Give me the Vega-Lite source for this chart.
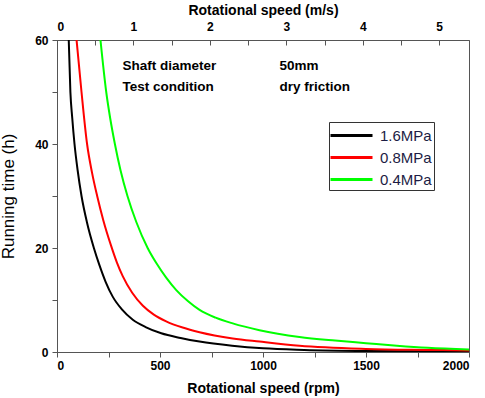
{
  "$schema": "https://vega.github.io/schema/vega-lite/v6.json",
  "width": 412,
  "height": 312,
  "autosize": {"type": "none"},
  "padding": {"left": 57, "top": 40, "right": 16, "bottom": 46},
  "background": "white",
  "config": {
    "view": {"stroke": "#555", "strokeWidth": 1},
    "font": "Liberation Sans",
    "axis": {
      "grid": false,
      "domainColor": "#555",
      "tickColor": "#555",
      "labelFont": "Liberation Sans",
      "labelFontWeight": "bold",
      "labelFontSize": 12,
      "labelColor": "#000",
      "titleFont": "Liberation Sans",
      "titleFontWeight": "bold",
      "titleFontSize": 14,
      "titleColor": "#000",
      "tickSize": 5
    }
  },
  "datasets": {
    "curves": [
      {"rpm": 57, "h": 60, "p": "1.6MPa"},
      {"rpm": 65, "h": 50, "p": "1.6MPa"},
      {"rpm": 74, "h": 45, "p": "1.6MPa"},
      {"rpm": 85, "h": 40, "p": "1.6MPa"},
      {"rpm": 100, "h": 35, "p": "1.6MPa"},
      {"rpm": 119, "h": 30, "p": "1.6MPa"},
      {"rpm": 145, "h": 25, "p": "1.6MPa"},
      {"rpm": 179, "h": 20, "p": "1.6MPa"},
      {"rpm": 206, "h": 16.7, "p": "1.6MPa"},
      {"rpm": 236, "h": 13.5, "p": "1.6MPa"},
      {"rpm": 271, "h": 10.6, "p": "1.6MPa"},
      {"rpm": 315, "h": 8.2, "p": "1.6MPa"},
      {"rpm": 368, "h": 6.2, "p": "1.6MPa"},
      {"rpm": 430, "h": 4.8, "p": "1.6MPa"},
      {"rpm": 506, "h": 3.6, "p": "1.6MPa"},
      {"rpm": 600, "h": 2.7, "p": "1.6MPa"},
      {"rpm": 692, "h": 2.0, "p": "1.6MPa"},
      {"rpm": 850, "h": 1.2, "p": "1.6MPa"},
      {"rpm": 1000, "h": 0.7, "p": "1.6MPa"},
      {"rpm": 1200, "h": 0.4, "p": "1.6MPa"},
      {"rpm": 1500, "h": 0.2, "p": "1.6MPa"},
      {"rpm": 2000, "h": 0.1, "p": "1.6MPa"},
      {"rpm": 95, "h": 60, "p": "0.8MPa"},
      {"rpm": 119, "h": 50, "p": "0.8MPa"},
      {"rpm": 146, "h": 40, "p": "0.8MPa"},
      {"rpm": 170, "h": 34.5, "p": "0.8MPa"},
      {"rpm": 195, "h": 30, "p": "0.8MPa"},
      {"rpm": 225, "h": 25.3, "p": "0.8MPa"},
      {"rpm": 262, "h": 20.5, "p": "0.8MPa"},
      {"rpm": 290, "h": 17.3, "p": "0.8MPa"},
      {"rpm": 319, "h": 14.6, "p": "0.8MPa"},
      {"rpm": 365, "h": 11.4, "p": "0.8MPa"},
      {"rpm": 417, "h": 8.9, "p": "0.8MPa"},
      {"rpm": 470, "h": 7.2, "p": "0.8MPa"},
      {"rpm": 530, "h": 5.9, "p": "0.8MPa"},
      {"rpm": 610, "h": 4.7, "p": "0.8MPa"},
      {"rpm": 692, "h": 3.8, "p": "0.8MPa"},
      {"rpm": 853, "h": 2.6, "p": "0.8MPa"},
      {"rpm": 983, "h": 2.0, "p": "0.8MPa"},
      {"rpm": 1177, "h": 1.2, "p": "0.8MPa"},
      {"rpm": 1500, "h": 0.6, "p": "0.8MPa"},
      {"rpm": 1800, "h": 0.4, "p": "0.8MPa"},
      {"rpm": 2000, "h": 0.3, "p": "0.8MPa"},
      {"rpm": 211, "h": 60, "p": "0.4MPa"},
      {"rpm": 239, "h": 50, "p": "0.4MPa"},
      {"rpm": 258, "h": 45, "p": "0.4MPa"},
      {"rpm": 281, "h": 40, "p": "0.4MPa"},
      {"rpm": 308, "h": 35, "p": "0.4MPa"},
      {"rpm": 342, "h": 30, "p": "0.4MPa"},
      {"rpm": 385, "h": 25, "p": "0.4MPa"},
      {"rpm": 440, "h": 20, "p": "0.4MPa"},
      {"rpm": 482, "h": 17.1, "p": "0.4MPa"},
      {"rpm": 530, "h": 14.3, "p": "0.4MPa"},
      {"rpm": 579, "h": 11.9, "p": "0.4MPa"},
      {"rpm": 635, "h": 9.8, "p": "0.4MPa"},
      {"rpm": 692, "h": 8.1, "p": "0.4MPa"},
      {"rpm": 770, "h": 6.6, "p": "0.4MPa"},
      {"rpm": 853, "h": 5.5, "p": "0.4MPa"},
      {"rpm": 983, "h": 4.2, "p": "0.4MPa"},
      {"rpm": 1177, "h": 2.9, "p": "0.4MPa"},
      {"rpm": 1350, "h": 2.2, "p": "0.4MPa"},
      {"rpm": 1500, "h": 1.7, "p": "0.4MPa"},
      {"rpm": 1650, "h": 1.2, "p": "0.4MPa"},
      {"rpm": 1800, "h": 0.8, "p": "0.4MPa"},
      {"rpm": 2000, "h": 0.5, "p": "0.4MPa"}
    ],
    "notes": [
      {"label": "Shaft diameter", "rpm": 318, "h": 55},
      {"label": "50mm", "rpm": 1080, "h": 55},
      {"label": "Test  condition", "rpm": 318, "h": 51},
      {"label": "dry friction", "rpm": 1080, "h": 51}
    ],
    "top": [{"ms": 0}, {"ms": 5.39}]
  },
  "layer": [
    {
      "layer": [
        {
          "data": {"name": "curves"},
          "mark": {"type": "line", "strokeWidth": 2, "clip": true, "interpolate": "monotone"},
          "encoding": {
            "x": {
              "field": "rpm", "type": "quantitative",
              "scale": {"domain": [0, 2000], "nice": false},
              "axis": {
                "orient": "bottom",
                "title": "Rotational speed (rpm)",
                "values": [0, 250, 500, 750, 1000, 1250, 1500, 1750, 2000],
                "labelExpr": "datum.value % 500 === 0 ? datum.label : ''",
                "format": "d",
                "labelPadding": 3,
                "titlePadding": 10
              }
            },
            "y": {
              "field": "h", "type": "quantitative",
              "scale": {"domain": [0, 60], "nice": false},
              "axis": {
                "title": "Running time (h)",
                "titleFontWeight": "normal",
                "titleFontSize": 17,
                "values": [0, 10, 20, 30, 40, 50, 60],
                "labelExpr": "datum.value % 20 === 0 ? datum.label : ''",
                "labelPadding": 4,
                "titlePadding": 17
              }
            },
            "color": {
              "field": "p", "type": "nominal",
              "scale": {"domain": ["1.6MPa", "0.8MPa", "0.4MPa"], "range": ["#000000", "#ff0000", "#00ff00"]},
              "legend": {
                "orient": "none",
                "legendX": 272,
                "legendY": 82,
                "title": null,
                "symbolType": "M-1.2,0H3",
                "symbolSize": 400,
                "symbolStrokeWidth": 3,
                "strokeColor": "#333",
                "padding": 2,
                "labelFont": "Liberation Sans",
                "labelFontSize": 15,
                "labelColor": "#1c1c44",
                "labelOffset": 26,
                "rowPadding": 2
              }
            }
          }
        },
        {
          "data": {"name": "notes"},
          "mark": {"type": "text", "align": "left", "baseline": "middle", "fontWeight": "bold", "fontSize": 13.5, "font": "Liberation Sans", "color": "#000"},
          "encoding": {
            "x": {"field": "rpm", "type": "quantitative"},
            "y": {"field": "h", "type": "quantitative"},
            "text": {"field": "label"}
          }
        }
      ]
    },
    {
      "data": {"name": "top"},
      "mark": {"type": "point", "opacity": 0},
      "encoding": {
        "x": {
          "field": "ms", "type": "quantitative",
          "scale": {"domain": [0, 5.39], "nice": false},
          "axis": {
            "orient": "top",
            "title": "Rotational speed (m/s)",
            "values": [0, 0.5, 1, 1.5, 2, 2.5, 3, 3.5, 4, 4.5, 5],
            "labelExpr": "datum.value % 1 === 0 ? datum.label : ''",
            "format": "~g",
            "tickSize": -5,
            "labelPadding": 12,
            "titlePadding": 3
          }
        }
      }
    }
  ],
  "resolve": {"scale": {"x": "independent"}}
}
